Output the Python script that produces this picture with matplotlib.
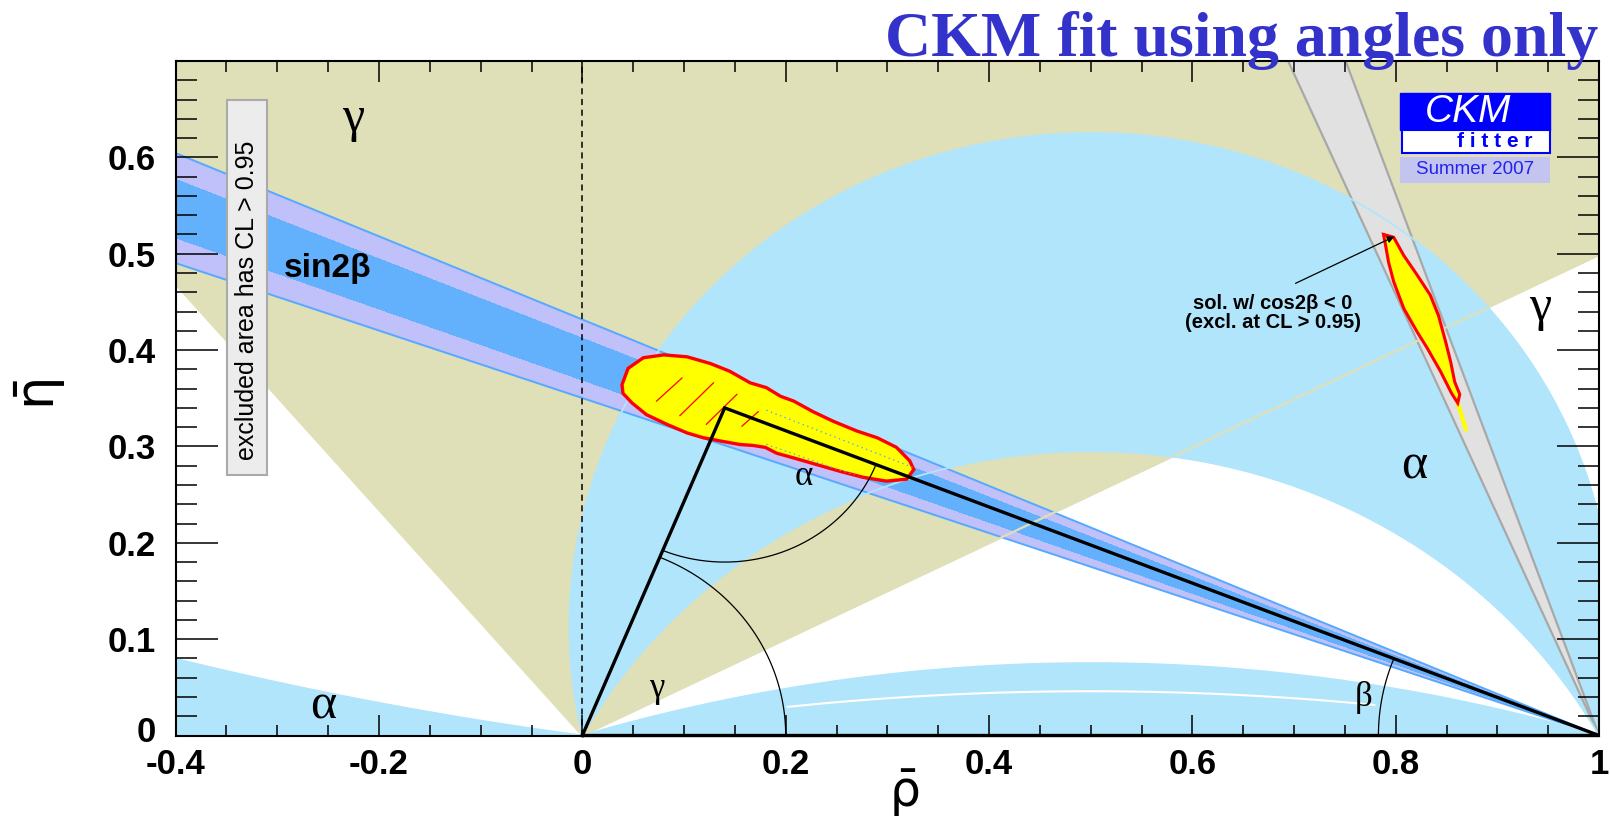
import numpy as np
import matplotlib
matplotlib.use('Agg')
import matplotlib.pyplot as plt
from matplotlib.patches import Polygon, Rectangle
from matplotlib.ticker import MultipleLocator, FixedLocator, FixedFormatter
from matplotlib.transforms import ScaledTranslation

plt.rcParams['font.family'] = ['Liberation Sans', 'DejaVu Sans']
plt.rcParams['mathtext.fontset'] = 'dejavusans'

# constraint ranges (degrees)
gamma_range = [26.5, 130.5]
alpha_ranges = [[0.0, 8.0], [77.3, 118.9], [162.9, 180.0]]
alpha_gap = 169.5          # thin white arc inside the alpha ~ 180 deg solution
sin2b_outer = [19.3, 23.35]
sin2b_inner = [20.25, 22.4]
cos2b_band = [66.4, 70.4]  # mirror solution (cos2beta < 0)

apex = [0.140, 0.340]

# 95% CL region of the full fit
fit_rho = [0.039, 0.045, 0.060, 0.080, 0.103, 0.126, 0.145, 0.165, 0.181, 0.195,
           0.208, 0.227, 0.247, 0.270, 0.290, 0.309, 0.322, 0.326, 0.319, 0.299,
           0.276, 0.254, 0.231, 0.208, 0.191, 0.180, 0.168, 0.155, 0.139, 0.119,
           0.103, 0.083, 0.063, 0.049, 0.040]
fit_eta = [0.364, 0.381, 0.392, 0.395, 0.393, 0.386, 0.378, 0.366, 0.361, 0.352,
           0.347, 0.336, 0.326, 0.316, 0.309, 0.299, 0.285, 0.276, 0.266, 0.264,
           0.268, 0.274, 0.281, 0.288, 0.293, 0.299, 0.301, 0.302, 0.305, 0.309,
           0.314, 0.323, 0.333, 0.345, 0.355]

# excluded solution with cos2beta < 0
alt_rho = [0.788, 0.798, 0.808, 0.821, 0.834, 0.842, 0.849, 0.854, 0.858, 0.863,
           0.861, 0.855, 0.844, 0.831, 0.821, 0.808, 0.798, 0.793, 0.790]
alt_eta = [0.520, 0.517, 0.498, 0.478, 0.457, 0.436, 0.409, 0.388, 0.367, 0.354,
           0.345, 0.355, 0.378, 0.402, 0.419, 0.443, 0.471, 0.491, 0.509]
alt_tail_rho = [0.861, 0.869]
alt_tail_eta = [0.345, 0.318]

# red hatch strokes inside the fit region
hatch_rho = [[0.073, 0.098], [0.096, 0.129], [0.122, 0.152], [0.157, 0.173]]
hatch_eta = [[0.347, 0.371], [0.332, 0.366], [0.323, 0.354], [0.321, 0.336]]

x_ticks = [-0.4, -0.2, 0, 0.2, 0.4, 0.6, 0.8, 1]
x_labels = ['-0.4', '-0.2', '0', '0.2', '0.4', '0.6', '0.8', '1']
y_ticks = [0, 0.1, 0.2, 0.3, 0.4, 0.5, 0.6]
y_labels = ['0', '0.1', '0.2', '0.3', '0.4', '0.5', '0.6']

khaki = '#dfdfb8'
light_blue = '#b1e5fc'
lavender = '#c0c0fa'
blue = '#63b1fd'
edge_blue = '#55aaff'
gray_fill = '#e1e1e1'
gray_edge = '#a8a8a8'

fig = plt.figure(figsize=(16.1, 8.24), dpi=100)
ax = fig.add_axes([0.1091, 0.1074, 0.8841, 0.8186])
ax.set_xlim(-0.4, 1.0)
ax.set_ylim(0, 0.7)

# angles of the unitarity triangle on a grid
rr, ee = np.meshgrid(np.linspace(-0.4, 1.0, 1401), np.linspace(0.0, 0.7, 701))
gam = np.degrees(np.arctan2(ee, rr))
alp = np.degrees(np.arctan2(ee, rr**2 - rr + ee**2))
bet = np.degrees(np.arctan2(ee, 1 - rr))

ax.contourf(rr, ee, gam, levels=gamma_range, colors=[khaki], zorder=1)
for lo, hi in alpha_ranges:
    ax.contourf(rr, ee, alp, levels=[lo, hi], colors=[light_blue], zorder=2)
alp_mid = np.ma.masked_where((rr < 0.2) | (rr > 0.78), alp)
ax.contour(rr, ee, alp_mid, levels=[alpha_gap], colors='white', linewidths=1.5, zorder=2.5)

ax.contourf(rr, ee, bet, levels=sin2b_outer, colors=[lavender], zorder=3)
ax.contourf(rr, ee, bet, levels=sin2b_inner, colors=[blue], zorder=3.1)
ax.contour(rr, ee, bet, levels=sin2b_outer, colors=edge_blue, linewidths=1.4, zorder=3.2)

ax.contourf(rr, ee, bet, levels=cos2b_band, colors=[gray_fill], zorder=4)
ax.contour(rr, ee, bet, levels=cos2b_band, colors=gray_edge, linewidths=1.6, zorder=4.1)

ax.contour(rr, ee, gam, levels=gamma_range, colors=khaki, linewidths=1.6, zorder=4.5)
alpha_edges = [a for pair in alpha_ranges for a in pair if 0 < a < 180]
ax.contour(rr, ee, alp, levels=alpha_edges, colors=light_blue, linewidths=1.3, zorder=4.6)

# fit regions
fit_patch = Polygon(np.column_stack([fit_rho, fit_eta]), closed=True, fc='yellow',
                    ec='red', lw=2.4, zorder=5)
ax.add_patch(fit_patch)
ax.plot(alt_tail_rho, alt_tail_eta, color='yellow', lw=3, zorder=5)
ax.add_patch(Polygon(np.column_stack([alt_rho, alt_eta]), closed=True, fc='yellow',
                     ec='red', lw=2.2, zorder=5.1))
for hr, he in zip(hatch_rho, hatch_eta):
    ax.plot(hr, he, color='red', lw=0.9, zorder=5.5)
bet_in = np.ma.masked_where(rr < 0.18, bet)
dots = ax.contour(rr, ee, bet_in, levels=sin2b_inner, colors=edge_blue,
                  linewidths=1.0, linestyles=[(0, (1, 2.5))], zorder=5.6)
dots.set_clip_path(fit_patch)

# unitarity triangle and angle arcs
ax.plot([0, apex[0], 1, 0], [0, apex[1], 0, 0], color='black', lw=2.4,
        zorder=7, clip_on=False, solid_joinstyle='miter')
a_from = np.arctan2(-apex[1], -apex[0])
a_to = np.arctan2(-apex[1], 1 - apex[0])
t = np.linspace(a_from, a_to, 100)
ax.plot(apex[0] + 0.16 * np.cos(t), apex[1] + 0.16 * np.sin(t), color='black', lw=0.9, zorder=7)
t = np.linspace(0, np.arctan2(apex[1], apex[0]), 100)
ax.plot(0.2 * np.cos(t), 0.2 * np.sin(t), color='black', lw=0.9, zorder=7)
t = np.linspace(np.pi, np.pi - np.arctan2(apex[1], 1 - apex[0]), 60)
ax.plot(1 + 0.217 * np.cos(t), 0.217 * np.sin(t), color='black', lw=0.9, zorder=7)

ax.axvline(0, color='black', lw=1.1, ls=(0, (4, 3)), zorder=6)

# labels inside the plot
greek = dict(family=['Liberation Serif', 'DejaVu Serif'], ha='center', va='center', zorder=8)
ax.text(-0.225, 0.640, 'γ', fontsize=36, **greek)
ax.text(-0.2545, 0.030, 'α', fontsize=36, **greek)
ax.text(0.818, 0.279, 'α', fontsize=36, **greek)
ax.text(0.9425, 0.444, 'γ', fontsize=36, **greek)
ax.text(0.218, 0.269, 'α', fontsize=25, **greek)
ax.text(0.0735, 0.049, 'γ', fontsize=25, **greek)
ax.text(0.768, 0.039, 'β', fontsize=25, **greek)
ax.text(-0.251, 0.476, 'sin2β', fontsize=24, fontweight='bold', ha='center',
        va='baseline', zorder=8)

ax.annotate('', xy=(0.801, 0.519), xytext=(0.699, 0.468),
            arrowprops=dict(arrowstyle='-|>', color='black', lw=0.9,
                            mutation_scale=10), zorder=8)
ax.text(0.6794, 0.4387, 'sol. w/ cos2β < 0\n(excl. at CL > 0.95)', fontsize=14.5,
        fontweight='bold', ha='center', va='center', linespacing=1.0, zorder=8)

# axes style (ticks inside on all sides)
ax.xaxis.set_major_locator(FixedLocator(x_ticks))
ax.xaxis.set_major_formatter(FixedFormatter(x_labels))
ax.xaxis.set_minor_locator(MultipleLocator(0.05))
ax.yaxis.set_major_locator(FixedLocator(y_ticks))
ax.yaxis.set_major_formatter(FixedFormatter(y_labels))
ax.yaxis.set_minor_locator(MultipleLocator(0.02))
ax.tick_params(axis='x', which='major', direction='in', top=True, length=15, width=1.1,
               labelsize=25, pad=9)
ax.tick_params(axis='x', which='minor', direction='in', top=True, length=8, width=1.1)
ax.tick_params(axis='y', which='major', direction='in', right=True, length=30, width=1.1,
               labelsize=25, pad=14)
ax.tick_params(axis='y', which='minor', direction='in', right=True, length=15, width=1.1)
ax.xaxis.set_zorder(9)
ax.yaxis.set_zorder(9)
for lab in ax.get_xticklabels() + ax.get_yticklabels():
    lab.set_fontweight('bold')
# lift the y "0" a little so it clears the "-0.4" below it
y0 = ax.get_yticklabels()[0]
y0.set_transform(y0.get_transform() + ScaledTranslation(0, 5 / 72, fig.dpi_scale_trans))
for sp in ax.spines.values():
    sp.set_linewidth(1.5)
    sp.set_zorder(9)

fig.text(904 / 1610, 1 - 793 / 824, r'$\bar{\mathrm{\rho}}$', fontsize=35, ha='center',
         va='center')
fig.text(40 / 1610, 1 - 395 / 824, r'$\bar{\mathrm{\eta}}$', fontsize=38, ha='center',
         va='center', rotation=90)

fig.text(0.993, 1 - 56.5 / 824, 'CKM fit using angles only', fontsize=46,
         family=['Liberation Serif'], fontweight='bold', color='#3333cc',
         ha='right', va='baseline')

# "excluded area" box
fig.patches.append(Rectangle((226.7 / 1610, 1 - 475 / 824), 40 / 1610, 375 / 824,
                             transform=fig.transFigure, fc='#ececec', ec='#aaaaaa',
                             lw=1.5, zorder=10))
fig.text(246.7 / 1610, 1 - 300 / 824, 'excluded area has CL > 0.95', fontsize=18,
         rotation=90, ha='center', va='center', zorder=11)

# CKMfitter logo
fig.patches.append(Rectangle((1400 / 1610, 1 - 130 / 824), 150 / 1610, 36.7 / 824,
                             transform=fig.transFigure, fc='#0000ff', ec='#0000ff',
                             lw=1, zorder=10))
fig.patches.append(Rectangle((1402 / 1610, 1 - 152.7 / 824), 148 / 1610, 22.7 / 824,
                             transform=fig.transFigure, fc='white', ec='#0000ff',
                             lw=1.5, zorder=10))
fig.patches.append(Rectangle((1400 / 1610, 1 - 182.7 / 824), 150 / 1610, 26 / 824,
                             transform=fig.transFigure, fc='#c4c4f0', ec='none',
                             zorder=10))
fig.text(1468 / 1610, 1 - 112 / 824, 'CKM', fontsize=28, style='italic', color='white',
         ha='center', va='center', zorder=11)
fig.text(1495 / 1610, 1 - 141.5 / 824, 'f i t t e r', fontsize=15, fontweight='bold',
         color='#0000ff', ha='center', va='center', zorder=11)
fig.text(1475 / 1610, 1 - 170 / 824, 'Summer 2007', fontsize=13.5, color='#2222ee',
         ha='center', va='center', zorder=11)

fig.savefig('out.png', dpi=100)
